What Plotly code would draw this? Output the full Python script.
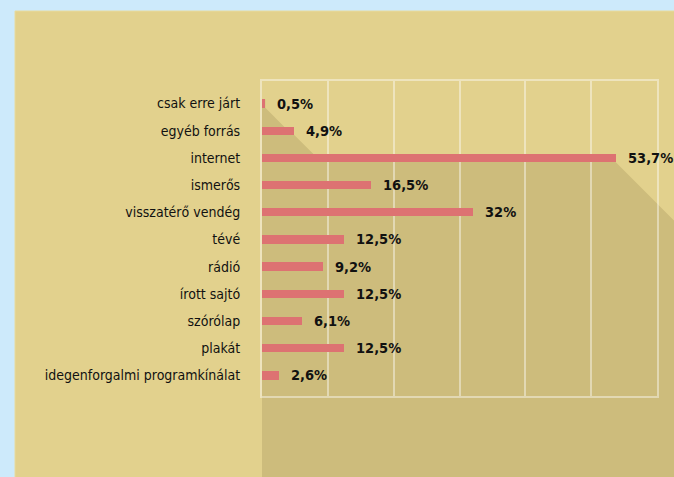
import plotly.graph_objects as go

categories = ["csak erre járt", "egyéb forrás", "internet", "ismerős", "visszatérő vendég",
              "tévé", "rádió", "írott sajtó", "szórólap", "plakát",
              "idegenforgalmi programkínálat"]
values = [0.5, 4.9, 53.7, 16.5, 32, 12.5, 9.2, 12.5, 6.1, 12.5, 2.6]
value_labels = [f"{v:g}".replace(".", ",") + "%" for v in values]

W, H = 674, 477
ML, MR, MT, MB = 262, 17, 81, 81
PW, PH = W - ML - MR, H - MT - MB
XR = [0, 60]
YR = [10.76, -0.83]
BAR_W = 0.31

BLUE = "#cdeafb"
PANEL = "#e2d18d"
SHADOW = "#cdbc7c"
BAR = "#dd7272"
GRID = "rgba(255,255,255,0.42)"
FONT = "DejaVu Sans Condensed, sans-serif"

# pixel helpers (derived from axis ranges) for the decorative long shadow
def px(v):
    return ML + (v - XR[0]) / (XR[1] - XR[0]) * PW

def py(i):
    return MT + (i - YR[1]) / (YR[0] - YR[1]) * PH

def to_paper(x, y):
    return (x - ML) / PW, 1 - (y - MT) / PH

half = BAR_W / 2 * PH / (YR[0] - YR[1])
pts = [(px(0), py(0) - half), (px(values[0]), py(0) - half)]
ax, ay = px(values[0]), py(0) + half
pts.append((ax, ay))
for i in range(1, len(values)):
    yb = py(i) + half
    rd = ax + (yb - ay)
    xe = px(values[i])
    if xe > rd:
        pts.append((rd, yb))
        pts.append((xe, yb))
        ax, ay = xe, yb
D = 700
pts.append((ax + D, ay + D))
pts.append((px(0), ay + D))
path = "M " + " L ".join("%.4f,%.4f" % to_paper(x, y) for x, y in pts) + " Z"

fig = go.Figure()
fig.add_trace(go.Bar(
    x=values, y=categories, orientation="h", width=BAR_W,
    marker=dict(color=BAR, line=dict(width=0)), hoverinfo="skip",
))

for v, c, t in zip(values, categories, value_labels):
    fig.add_annotation(x=v, y=c, xref="x", yref="y", text="<b>%s</b>" % t,
                       showarrow=False, xanchor="left", xshift=10, yshift=0,
                       font=dict(family=FONT, size=14.5, color="#111111"))

# panel and shadow
x0p, y0p = to_paper(15, 11)
x1p, y1p = to_paper(W + 20, H + 20)
fig.add_shape(type="rect", xref="paper", yref="paper", x0=x0p, y0=y0p, x1=x1p, y1=y1p,
              fillcolor=PANEL, line=dict(color="#e8dc9e", width=1), layer="below")
fig.add_shape(type="path", xref="paper", yref="paper", path=path,
              fillcolor=SHADOW, line=dict(width=0), layer="below")

fig.update_layout(
    width=W, height=H,
    margin=dict(l=ML, r=MR, t=MT, b=MB, autoexpand=False),
    paper_bgcolor=BLUE, plot_bgcolor="rgba(0,0,0,0)",
    showlegend=False, bargap=0,
    font=dict(family=FONT, size=14, color="#111111"),
)
fig.update_xaxes(range=XR, dtick=10, showgrid=True, gridcolor=GRID, gridwidth=2,
                 showticklabels=False, zeroline=False, showline=True, mirror=True,
                 linecolor=GRID, linewidth=2, ticks="", automargin=False)
fig.update_yaxes(type="category", categoryorder="array", categoryarray=categories,
                 range=YR, showgrid=False, zeroline=False, showline=True, mirror=True,
                 linecolor=GRID, linewidth=2, ticks="", ticklabelstandoff=17,
                 automargin=False,
                 tickfont=dict(family=FONT, size=14, color="#111111"))

fig.write_html("out.html", config={"displayModeBar": False},
               post_script="document.body.style.margin='0';document.body.style.overflow='hidden';")
